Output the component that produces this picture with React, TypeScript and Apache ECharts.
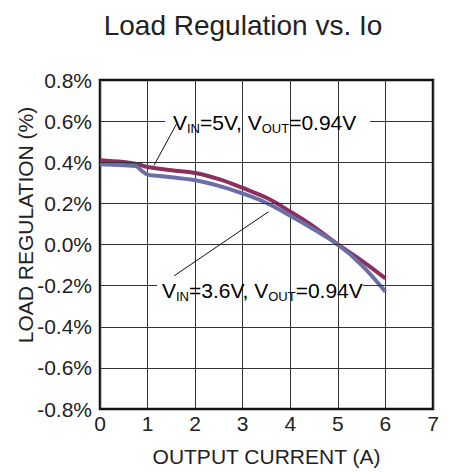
import React, { useEffect, useRef } from "react";
import * as echarts from "echarts";

const xTicks = [0, 1, 2, 3, 4, 5, 6, 7];
const yTicks = [-0.8, -0.6, -0.4, -0.2, 0, 0.2, 0.4, 0.6, 0.8];

// VIN = 5V, VOUT = 0.94V
const red5V: [number, number][] = [
  [0, 0.41], [0.5, 0.401], [0.8, 0.39], [1.0, 0.377], [1.5, 0.361], [2.0, 0.348],
  [2.5, 0.318], [3.0, 0.275], [3.5, 0.227], [4.0, 0.16], [4.5, 0.086], [5.0, 0.0],
  [5.5, -0.078], [6.0, -0.165],
];
// VIN = 3.6V, VOUT = 0.94V
const blue36V: [number, number][] = [
  [0, 0.39], [0.5, 0.385], [0.75, 0.381], [0.88, 0.358], [1.0, 0.34], [1.3, 0.332],
  [2.0, 0.312], [2.5, 0.285], [3.0, 0.248], [3.5, 0.202], [4.0, 0.14], [4.5, 0.073],
  [5.0, 0.0], [5.5, -0.1], [6.0, -0.23],
];

// horizontal gridline gaps behind annotation texts: [y, gapStart, gapEnd]
const gridGaps: [number, number, number][] = [
  [0.6, 1.37, 5.68],
  [-0.2, 1.2, 5.53],
];

// leader lines [[x1,y1],[x2,y2]]
const leaders: [[number, number], [number, number]][] = [
  [[1.61, 0.587], [1.135, 0.385]],
  [[1.56, -0.152], [3.54, 0.159]],
];

const title = "Load Regulation vs. Io";
const xName = "OUTPUT CURRENT (A)";
const yName = "LOAD REGULATION (%)";

export default function App() {
  const ref = useRef<HTMLDivElement>(null);
  useEffect(() => {
    if (!ref.current) return;
    const chart = echarts.init(ref.current, null, { renderer: "svg" });
    const font = "Liberation Sans, Arial, sans-serif";

    const gridLineData: any[] = [];
    yTicks.forEach((y) => {
      if (Math.abs(y) > 0.79) return;
      const gap = gridGaps.find((g) => Math.abs(g[0] - y) < 1e-6);
      if (gap) {
        gridLineData.push([{ coord: [0, y] }, { coord: [gap[1], y] }]);
        gridLineData.push([{ coord: [gap[2], y] }, { coord: [7, y] }]);
      } else {
        gridLineData.push([{ coord: [0, y] }, { coord: [7, y] }]);
      }
    });

    const rich = {
      m: { fontSize: 21, fontFamily: font, color: "#222" },
      s: { fontSize: 13, fontFamily: font, color: "#222", padding: [12, 0, 0, 0] },
    };

    chart.setOption({
      animation: false,
      title: {
        text: title,
        left: 238,
        top: 6,
        textAlign: "center",
        textStyle: { fontSize: 28, fontWeight: "normal", color: "#222", fontFamily: font },
      },
      grid: {
        left: 100,
        right: 16,
        top: 80,
        bottom: 61,
        show: true,
        borderColor: "#111",
        borderWidth: 2.5,
        backgroundColor: "#fff",
      },
      xAxis: {
        type: "value",
        min: 0,
        max: 7,
        interval: 1,
        name: xName,
        nameLocation: "middle",
        nameGap: 37,
        nameTextStyle: { fontSize: 21, color: "#222", fontFamily: font },
        axisLine: { show: false },
        axisTick: { show: false },
        axisLabel: { fontSize: 21, color: "#222", fontFamily: font, margin: 4 },
        splitLine: { show: true, lineStyle: { color: "#333", width: 1 } },
      },
      yAxis: {
        type: "value",
        min: -0.8,
        max: 0.8,
        interval: 0.2,
        axisLine: { show: false },
        axisTick: { show: false },
        axisLabel: {
          fontSize: 21,
          color: "#222",
          fontFamily: font,
          margin: 8,
          formatter: (v: number) => v.toFixed(1) + "%",
        },
        splitLine: { show: false },
      },
      graphic: [
        {
          type: "text",
          x: 25,
          y: 225,
          rotation: Math.PI / 2,
          style: {
            text: yName,
            fontSize: 21,
            fontFamily: font,
            fill: "#222",
            align: "center",
            verticalAlign: "middle",
          },
        },
        {
          type: "text",
          x: 173,
          y: 122,
          z: 100,
          style: {
            text: "{m|V}{s|IN}{m|=5V, V}{s|OUT}{m|=0.94V}",
            rich,
            align: "left",
            verticalAlign: "middle",
          },
        },
        {
          type: "text",
          x: 162,
          y: 290,
          z: 100,
          style: {
            text: "{m|V}{s|IN}{m|=3.6V, V}{s|OUT}{m|=0.94V}",
            rich,
            align: "left",
            verticalAlign: "middle",
          },
        },
      ],
      series: [
        {
          type: "line",
          data: [],
          z: 1,
          silent: true,
          markLine: {
            silent: true,
            symbol: "none",
            label: { show: false },
            lineStyle: { color: "#333", width: 1, type: "solid" },
            data: gridLineData,
          },
        },
        {
          type: "line",
          data: [],
          z: 5,
          silent: true,
          markLine: {
            silent: true,
            symbol: "none",
            label: { show: false },
            lineStyle: { color: "#111", width: 1, type: "solid" },
            data: leaders.map((l) => [{ coord: l[0] }, { coord: l[1] }]),
          },
        },
        {
          name: "VIN=5V",
          type: "line",
          data: red5V,
          smooth: 0.4,
          showSymbol: false,
          z: 3,
          lineStyle: { color: "#8B2F5E", width: 4 },
          itemStyle: { color: "#8B2F5E" },
        },
        {
          name: "VIN=3.6V",
          type: "line",
          data: blue36V,
          smooth: 0.4,
          showSymbol: false,
          z: 4,
          lineStyle: { color: "#6A6FA6", width: 4 },
          itemStyle: { color: "#6A6FA6" },
        },
      ],
    });
    return () => chart.dispose();
  }, []);
  return <div ref={ref} style={{ width: 449, height: 472, position: "absolute", left: 0, top: 0 }} />;
}
